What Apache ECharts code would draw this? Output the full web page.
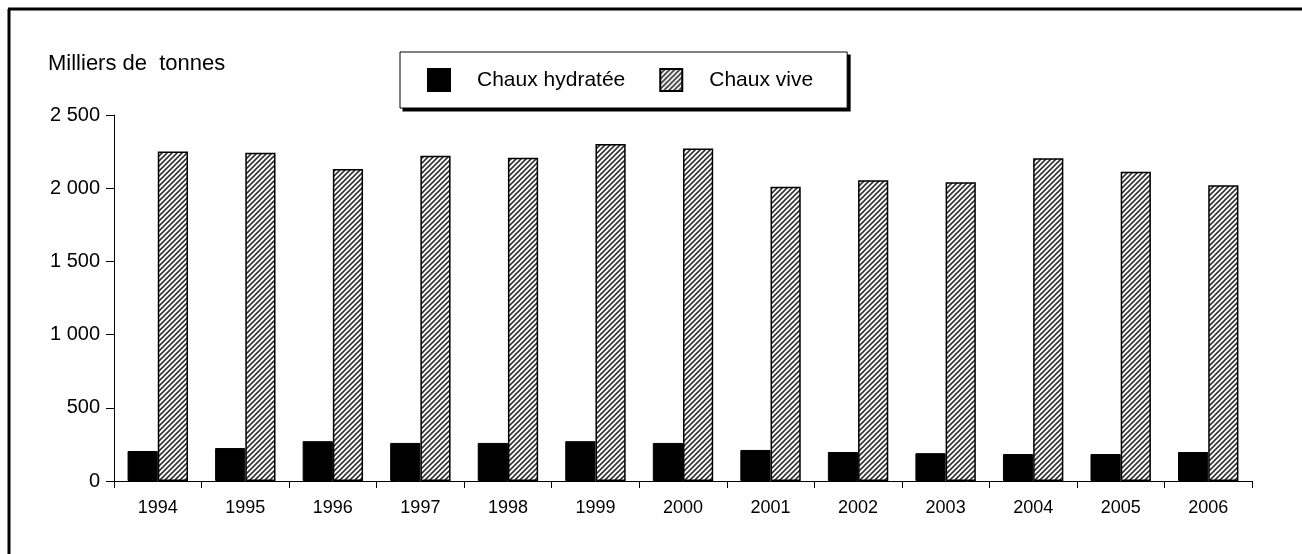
<!DOCTYPE html>
<html><head><meta charset="utf-8">
<script src="https://cdn.jsdelivr.net/npm/echarts@6/dist/echarts.min.js"></script>
<style>html,body{margin:0;padding:0;background:#fff}#c{width:1302px;height:554px}</style>
</head><body><div id="c"></div>
<script>
const years = ['1994','1995','1996','1997','1998','1999','2000','2001','2002','2003','2004','2005','2006'];
const chauxHydratee = [205, 225, 272, 260, 260, 272, 260, 212, 198, 190, 184, 184, 198];
const chauxVive = [2250, 2242, 2132, 2222, 2208, 2302, 2272, 2010, 2055, 2040, 2205, 2112, 2020];
const yTicks = [0, 500, 1000, 1500, 2000, 2500];

function hatch() {
  const s = 5;
  const cv = document.createElement('canvas');
  cv.width = s; cv.height = s;
  const g = cv.getContext('2d');
  g.fillStyle = '#fff'; g.fillRect(0, 0, s, s);
  g.strokeStyle = '#333'; g.lineWidth = 1.6;
  g.beginPath();
  g.moveTo(-1, s + 1); g.lineTo(s + 1, -1);
  g.moveTo(-1, 1); g.lineTo(1, -1);
  g.moveTo(s - 1, s + 1); g.lineTo(s + 1, s - 1);
  g.stroke();
  return { image: cv, repeat: 'repeat' };
}
const fontFam = '"Liberation Sans", Arial, sans-serif';
const chart = echarts.init(document.getElementById('c'), null, { renderer: 'canvas' });
chart.setOption({
  animation: false,
  backgroundColor: '#fff',
  title: { text: 'Milliers de  tonnes', left: 43, top: 48,
    textStyle: { fontFamily: fontFam, fontSize: 22, fontWeight: 'normal', color: '#000' } },
  legend: {
    left: 400, top: 52, z: 10,
    padding: [16, 34, 16, 27],
    backgroundColor: '#fff', borderColor: '#000', borderWidth: 1,
    itemWidth: 22, itemHeight: 22, itemGap: 34, icon: 'rect',
    textStyle: { fontFamily: fontFam, fontSize: 21, lineHeight: 22, color: '#000', padding: [0, 0, 0, 22] },
    data: ['Chaux hydratée', 'Chaux vive']
  },
  grid: { left: 114, right: 50, top: 115, bottom: 73, containLabel: false },
  xAxis: {
    type: 'category', data: years,
    axisLine: { lineStyle: { color: '#000', width: 1 } },
    axisTick: { show: true, length: 7, lineStyle: { color: '#000' } },
    axisLabel: { fontFamily: fontFam, fontSize: 18, color: '#000', margin: 18 }
  },
  yAxis: {
    type: 'value', min: 0, max: 2500, interval: 500,
    axisLine: { show: true, lineStyle: { color: '#000', width: 1 } },
    axisTick: { show: true, length: 8, lineStyle: { color: '#000' } },
    splitLine: { show: false },
    axisLabel: { fontFamily: fontFam, fontSize: 20, color: '#000', margin: 14,
      formatter: v => yTicks.includes(v) ? String(v).replace(/\B(?=(\d{3})+(?!\d))/g, '\u00a0') : '' }
  },
  series: [
    { name: 'Chaux hydratée', type: 'bar', data: chauxHydratee, barGap: '0%', barCategoryGap: '31%',
      itemStyle: { color: '#000', borderColor: '#000', borderWidth: 1 } },
    { name: 'Chaux vive', type: 'bar', data: chauxVive, barGap: '0%', barCategoryGap: '31%',
      itemStyle: { color: hatch(), borderColor: '#000', borderWidth: 1.5 } }
  ],
  graphic: [
    { type: 'line', shape: { x1: 9, y1: 9, x2: 9, y2: 554 }, style: { stroke: '#000', lineWidth: 3 } },
    { type: 'line', shape: { x1: 8, y1: 9, x2: 1302, y2: 9 }, style: { stroke: '#000', lineWidth: 3 } }
  ]
});
// legend drop shadow, sized from the rendered legend box
(function () {
  try {
    const lm = chart.getModel().getComponent('legend');
    const view = chart.getViewOfComponentModel(lm);
    const r = view.group.getBoundingRect().clone();
    r.applyTransform(view.group.getLocalTransform());
    chart.setOption({ graphic: [
      { type: 'line', shape: { x1: 9, y1: 9, x2: 9, y2: 554 }, style: { stroke: '#000', lineWidth: 3 } },
      { type: 'line', shape: { x1: 8, y1: 9, x2: 1302, y2: 9 }, style: { stroke: '#000', lineWidth: 3 } },
      { type: 'rect', z: 1, shape: { x: r.x + 3, y: r.y + 3, width: r.width, height: r.height }, style: { fill: '#000' } }
    ] });
  } catch (e) {
    chart.setOption({ graphic: [
      { type: 'line', shape: { x1: 9, y1: 9, x2: 9, y2: 554 }, style: { stroke: '#000', lineWidth: 3 } },
      { type: 'line', shape: { x1: 8, y1: 9, x2: 1302, y2: 9 }, style: { stroke: '#000', lineWidth: 3 } },
      { type: 'rect', z: 1, shape: { x: 403, y: 55, width: 446, height: 56 }, style: { fill: '#000' } }
    ] });
  }
})();
</script></body></html>
